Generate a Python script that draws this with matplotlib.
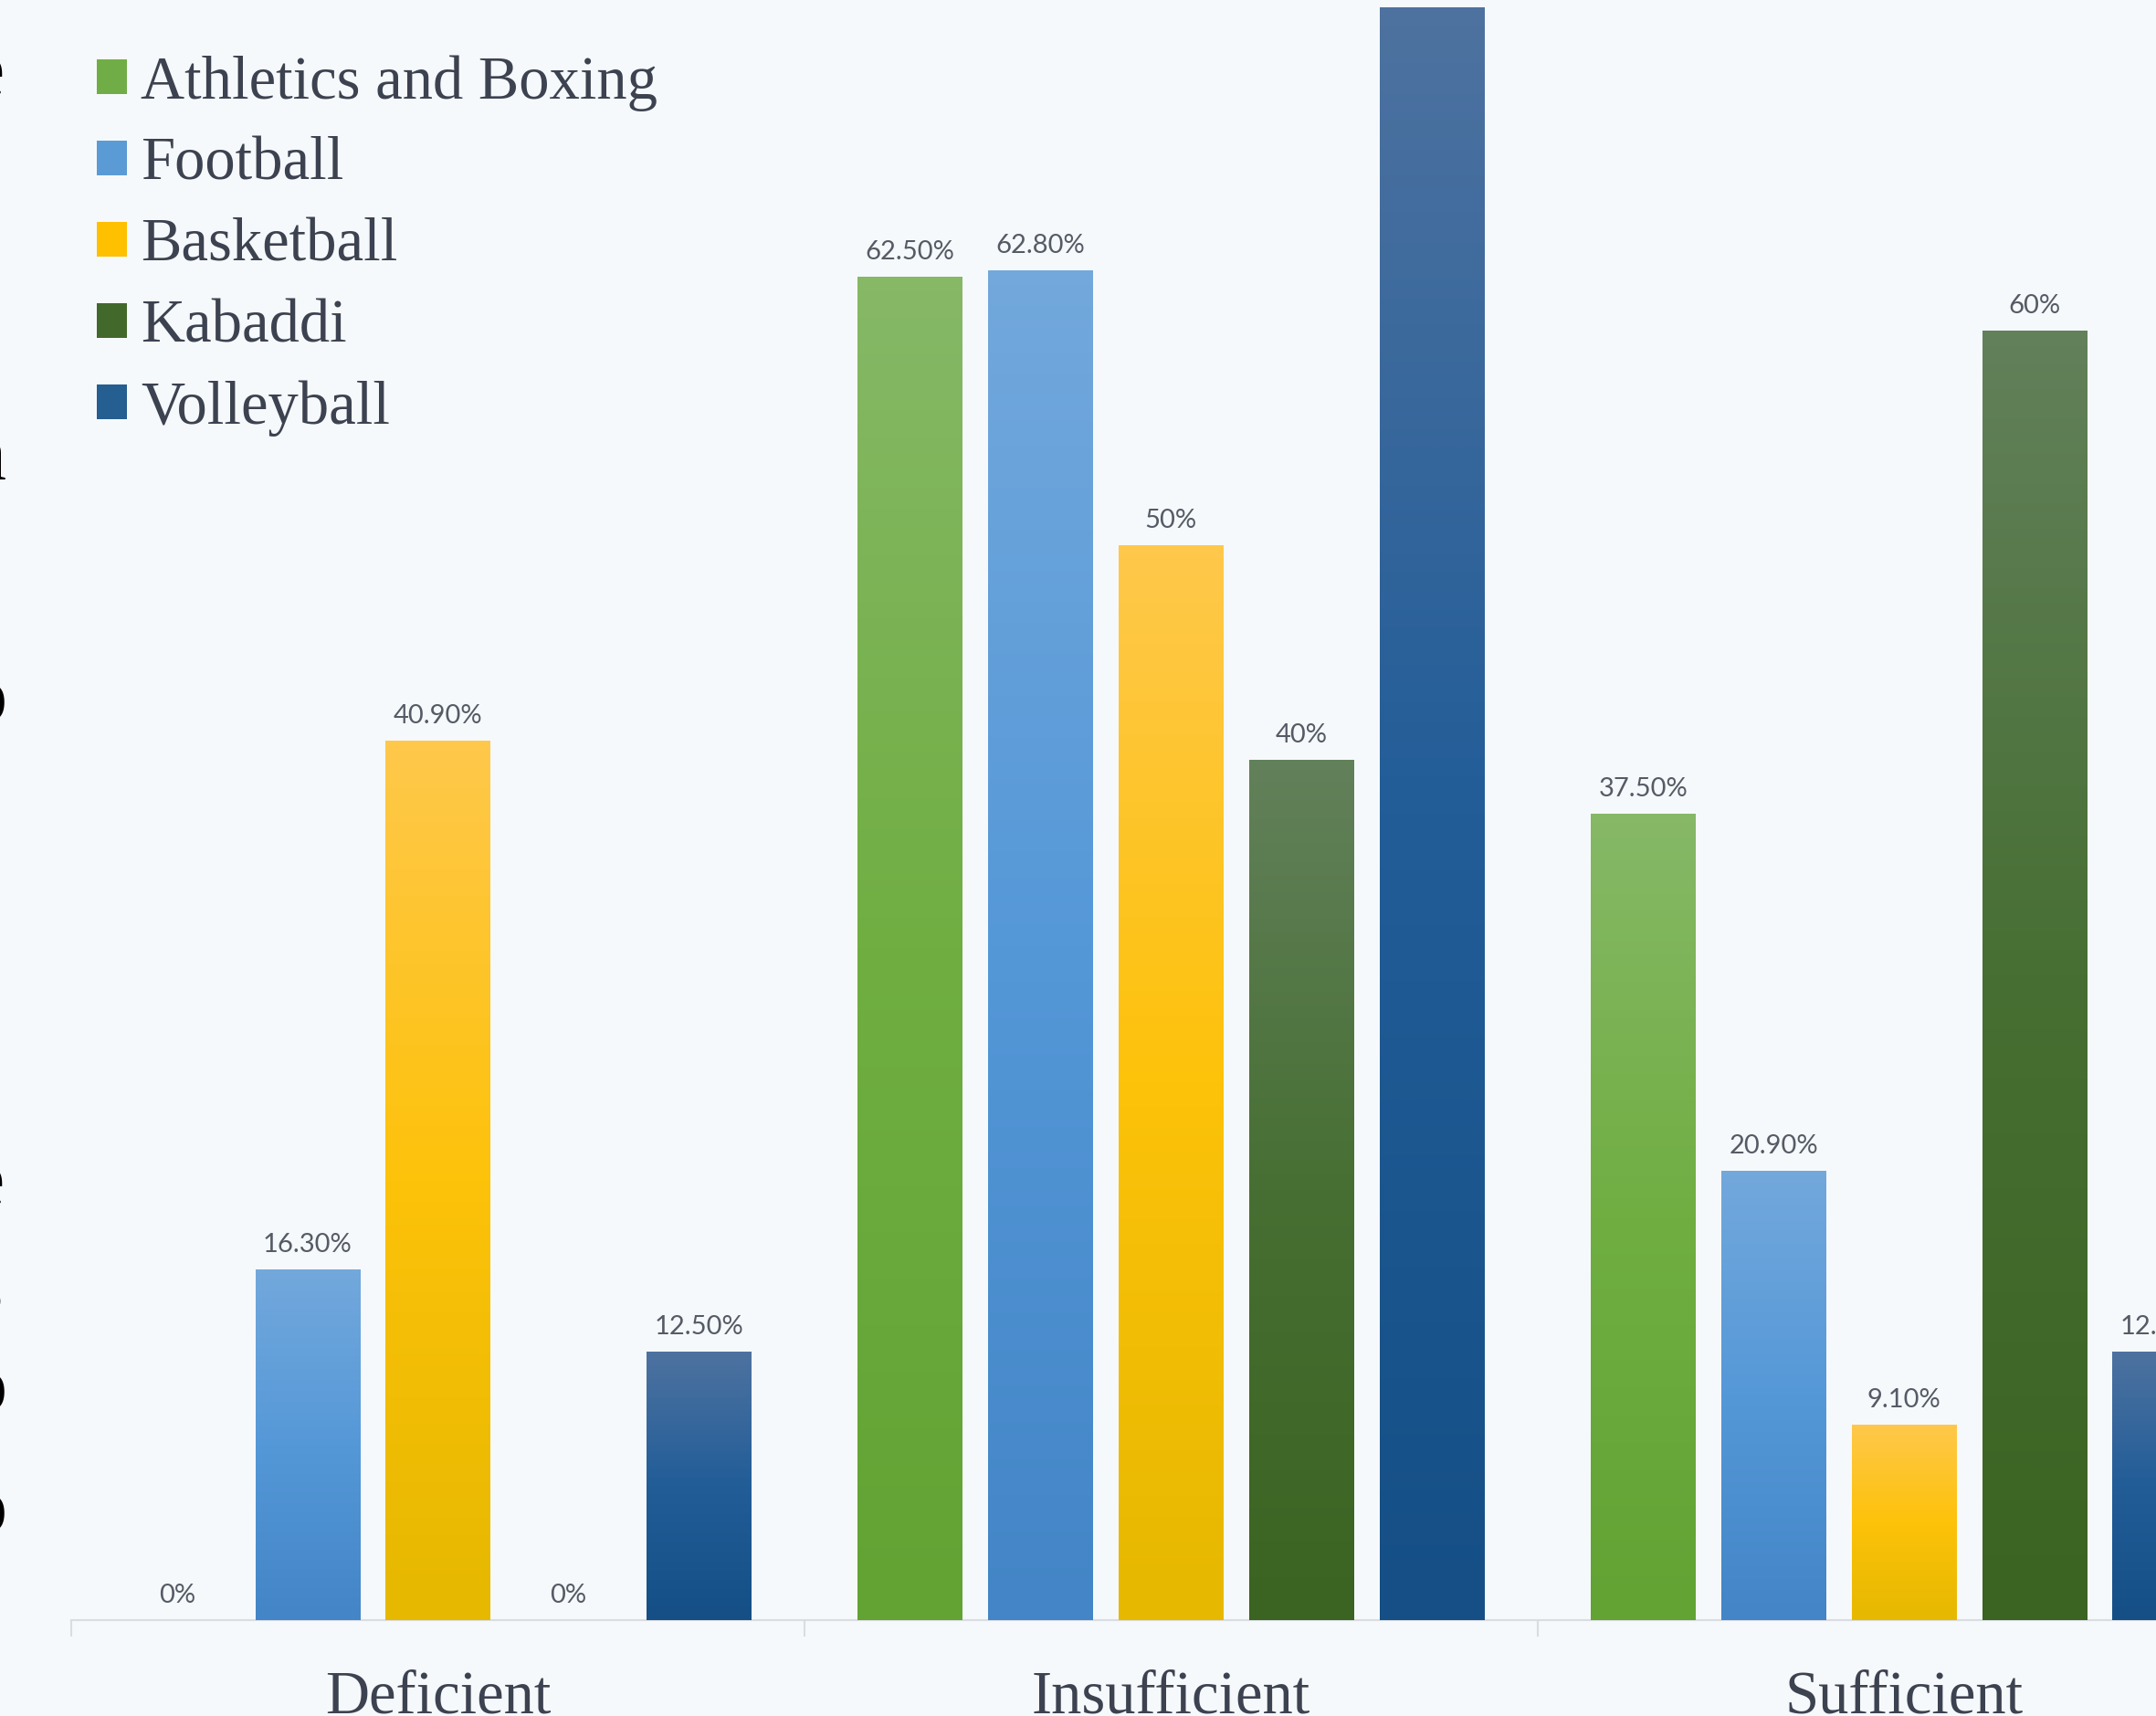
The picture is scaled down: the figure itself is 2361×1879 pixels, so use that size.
import numpy as np
import matplotlib
matplotlib.use('Agg')
import matplotlib.pyplot as plt
from matplotlib.colors import LinearSegmentedColormap

# data (percent of players in each vitamin status group)
categories = ['Deficient', 'Insufficient', 'Sufficient']
sports = ['Athletics and Boxing', 'Football', 'Basketball', 'Kabaddi', 'Volleyball']
athletics = [0, 62.5, 37.5]
football = [16.3, 62.8, 20.9]
basketball = [40.9, 50, 9.1]
kabaddi = [0, 40, 60]
volleyball = [12.5, 75, 12.5]

# gradient colours per series: top, middle, bottom
grad = [
    ['#86b866', '#70ae42', '#62a334'],
    ['#72a8dc', '#5598d8', '#4385c6'],
    ['#ffc84a', '#fdc20a', '#e6b800'],
    ['#62805a', '#476f33', '#3b6321'],
    ['#4d72a0', '#225d98', '#154f86'],
]
solid = ['#70ad47', '#5b9bd5', '#ffc000', '#43682b', '#255e91']

bg = '#f6f9fb'
txt = '#3c4250'

fig = plt.figure(figsize=(23.61, 18.79), dpi=100, facecolor=bg)
ax = fig.add_axes([52 / 1568, 105 / 1879, 1 - 52 / 1568, 1 - 105 / 1879])
ax.set_facecolor(bg)

x = np.arange(len(categories))
step = 0.178
width = 0.1426
series = [athletics, football, basketball, kabaddi, volleyball]

for i, vals in enumerate(series):
    off = (i - 2) * step
    bars = ax.bar(x + off, vals, width, color=solid[i], label=sports[i], zorder=2)
    cmap = LinearSegmentedColormap.from_list('g%d' % i, grad[i])
    for b in bars:
        h = b.get_height()
        if h <= 0:
            continue
        x0 = b.get_x()
        # row 0 is drawn at the bottom, so it gets the bottom colour
        img = ax.imshow(np.linspace(1, 0, 64).reshape(-1, 1), cmap=cmap,
                        extent=(x0, x0 + b.get_width(), 0, h), aspect='auto',
                        interpolation='bilinear', zorder=3, origin='lower')
        img.set_clip_path(b)
    labels = [('%d%%' % v) if float(v).is_integer() else ('%.2f%%' % v) for v in vals]
    anns = ax.bar_label(bars, labels=labels, padding=10, fontsize=21, color='#555b66',
                        family='Lato', zorder=4)
    for a in anns:
        # the last bar sits past the right edge, its label is only half shown
        a.set_annotation_clip(False)

ax.set_aspect('auto')
for s in ['top', 'right', 'left']:
    ax.spines[s].set_visible(False)
ax.spines['bottom'].set_color('#d9dde2')
ax.spines['bottom'].set_linewidth(1.5)
ax.set_yticks([])
ax.set_xticks(x)
ax.set_xticklabels(categories, family='Liberation Serif', fontsize=48, color=txt)
ax.tick_params(axis='x', which='major', length=0, pad=39)
ax.set_xticks([-0.5, 0.5, 1.5, 2.5], minor=True)
ax.tick_params(axis='x', which='minor', length=13, width=1.5, color='#d9dde2')

# limits last, setting ticks can widen them
ax.set_xlim(-0.5, 2.344)
ax.set_ylim(0, 75.36)

leg = fig.legend(loc='upper left', bbox_to_anchor=(106 / 2361, 1 - 60 / 1879),
                 frameon=False, prop={'family': 'Liberation Serif', 'size': 48},
                 handlelength=0.5, handleheight=0.5, handletextpad=0.22,
                 labelspacing=0.42, borderaxespad=0, borderpad=0)
for t in leg.get_texts():
    t.set_color(txt)

# cut-off letters of the neighbouring text column at the left edge
edge_chars = ['e', 'l', 'n', 'o', 'l', ',', 'e', 's', 'o', 'o']
edge_y = [55, 140, 335, 510, 590, 680, 862, 940, 1012, 1100]
for c, yy in zip(edge_chars, edge_y):
    fig.text(-0.006, 1 - yy / 1248, c, family='Liberation Serif', fontsize=62,
             color='black', ha='center', va='center')

fig.savefig('out.png', dpi=100, facecolor=bg)
